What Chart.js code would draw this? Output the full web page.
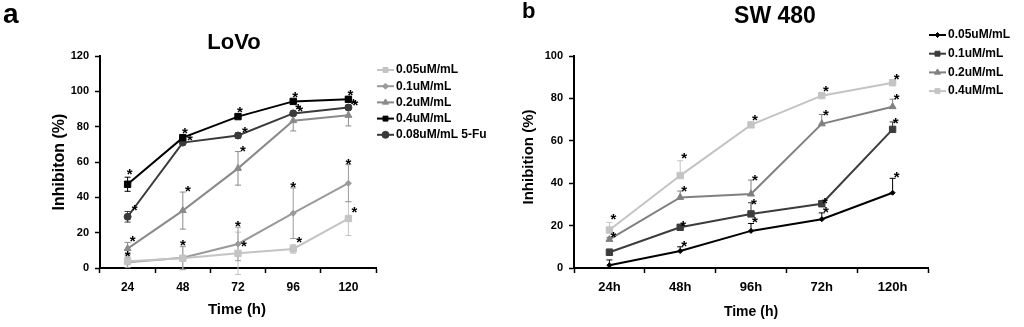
<!DOCTYPE html>
<html>
<head>
<meta charset="utf-8">
<script src="https://cdn.jsdelivr.net/npm/chart.js@4/dist/chart.umd.min.js"></script>
<style>
  body { margin: 0; background: #fff; width: 1024px; height: 327px; overflow: hidden; position: relative; }
  canvas { position: absolute; top: 0; }
  #lovo { left: 0; }
  #sw { left: 512px; }
</style>
</head>
<body>
<canvas id="lovo" width="512" height="327"></canvas>
<canvas id="sw" width="512" height="327"></canvas>
<script>
// panel a - LoVo
const lovoHours = ['24', '48', '72', '96', '120'];
const lovoTicks = [0, 20, 40, 60, 80, 100, 120];
const lovo005 = [3.8, 5.5, 8.3, 10.8, 28];
const lovo01 = [3.2, 5.8, 13.6, 31, 48];
const lovo02 = [11, 32.5, 56.4, 83.4, 86.4];
const lovo04 = [47.4, 73.8, 85.7, 94.3, 95.5];
const lovoFu = [29, 71, 75, 87.5, 90.8];
const lovo005Err = [2, 6.5, 12, 2.4, 9.6];
const lovo01Err = [3, 6.5, 9.5, 14.3, 10.5];
const lovo02Err = [3.5, 10.5, 9.5, 5.8, 6];
const lovo04Err = [4, 1, 1, 1, 1];
const lovoFuErr = [3, 1, 1.5, 1, 1];
const lovo005Sig = [0, 0, 1, 1, 1];
const lovo01Sig = [1, 1, 1, 1, 1];
const lovo02Sig = [1, 1, 1, 1, 1];
const lovo04Sig = [1, 1, 1, 1, 1];
const lovoFuSig = [1, 1, 1, 1, 1];

// panel b - SW480
const swHours = ['24h', '48h', '96h', '72h', '120h'];
const swTicks = [0, 20, 40, 60, 80, 100];
const sw005 = [1.3, 8, 17.5, 23, 35.5];
const sw01 = [7.4, 19.2, 25.5, 30.3, 65.4];
const sw02 = [13.5, 33.3, 34.9, 68, 76.1];
const sw04 = [17.9, 43.6, 67.5, 81.3, 87.4];
const sw005Err = [2.5, 2, 3.5, 3, 6.8];
const sw01Err = [1.5, 1, 5.3, 1, 3.5];
const sw02Err = [1, 3, 6.6, 4.4, 3.5];
const sw04Err = [3.6, 7, 1, 1, 0.5];
const sw005Sig = [0, 1, 1, 1, 1];
const sw01Sig = [0, 1, 1, 1, 1];
const sw02Sig = [1, 1, 1, 1, 1];
const sw04Sig = [1, 1, 1, 1, 1];

const FONT = "'Liberation Sans', Arial, sans-serif";

function series(label, data, errs, sig, color, style, radius, starDx, starDy) {
  return {
    label, data, errs, sig, starDx, starDy,
    borderColor: color, backgroundColor: color,
    pointStyle: style, pointRadius: radius, pointHoverRadius: radius,
    borderWidth: 2, pointBorderWidth: 1, tension: 0, fill: false
  };
}

const extras = {
  id: 'extras',
  beforeDatasetsDraw(chart, args, o) {
    const ctx = chart.ctx, ys = chart.scales.y;
    ctx.save();
    chart.data.datasets.forEach((ds, i) => {
      const meta = chart.getDatasetMeta(i);
      ctx.strokeStyle = ds.borderColor;
      ctx.lineWidth = 1;
      meta.data.forEach((pt, j) => {
        const v = ds.data[j], e = ds.errs[j];
        const top = ys.getPixelForValue(v + e);
        const bot = o.upperOnly ? pt.y : ys.getPixelForValue(v - e);
        ctx.beginPath();
        ctx.moveTo(pt.x, top); ctx.lineTo(pt.x, bot);
        ctx.moveTo(pt.x - 3, top); ctx.lineTo(pt.x + 3, top);
        if (!o.upperOnly) { ctx.moveTo(pt.x - 3, bot); ctx.lineTo(pt.x + 3, bot); }
        ctx.stroke();
      });
    });
    ctx.restore();
  },
  afterDatasetsDraw(chart, args, o) {
    const ctx = chart.ctx, ys = chart.scales.y;
    ctx.save();
    ctx.fillStyle = '#000';
    ctx.font = 'bold 15px ' + FONT;
    ctx.textAlign = 'center';
    ctx.textBaseline = 'alphabetic';
    chart.data.datasets.forEach((ds, i) => {
      const meta = chart.getDatasetMeta(i);
      meta.data.forEach((pt, j) => {
        if (!ds.sig[j]) return;
        const ref = o.starFromPoint && o.starFromPoint.includes(i) ? pt.y : ys.getPixelForValue(ds.data[j] + ds.errs[j]);
        ctx.fillText('*', pt.x + ds.starDx, ref + ds.starDy + 8);
      });
    });
    ctx.restore();
  },
  afterDraw(chart, args, o) {
    const ctx = chart.ctx;
    ctx.save();
    ctx.fillStyle = '#000';
    ctx.textBaseline = 'alphabetic';
    ctx.textAlign = 'left';
    ctx.font = 'bold ' + o.panelSize + 'px ' + FONT;
    ctx.fillText(o.panel, o.panelX, o.panelY);
    ctx.textAlign = 'center';
    ctx.textBaseline = 'middle';
    ctx.font = 'bold ' + o.titleSize + 'px ' + FONT;
    ctx.fillText(o.title, o.titleX, o.titleY);
    ctx.font = 'bold ' + o.axisSize[1] + 'px ' + FONT;
    ctx.fillText(o.xTitle, o.xTitleX, o.xTitleY);
    ctx.save();
    ctx.translate(o.yTitleX, o.yTitleY);
    ctx.rotate(-Math.PI / 2);
    ctx.font = 'bold ' + o.axisSize[0] + 'px ' + FONT;
    ctx.fillText(o.yTitle, 0, 0);
    ctx.restore();
    // legend: line with marker on it
    ctx.font = 'bold 12px ' + FONT;
    ctx.textAlign = 'left';
    chart.data.datasets.forEach((ds, i) => {
      const y = o.legendY + i * o.legendGap;
      ctx.strokeStyle = ds.borderColor;
      ctx.fillStyle = ds.borderColor;
      ctx.lineWidth = 2;
      ctx.beginPath();
      ctx.moveTo(o.legendX, y); ctx.lineTo(o.legendX + 17, y);
      ctx.stroke();
      ctx.lineWidth = 1;
      Chart.helpers.drawPoint(ctx, {
        pointStyle: ds.pointStyle, radius: Math.min(ds.pointRadius, 3.5), borderWidth: 1
      }, o.legendX + 8.5, y);
      ctx.fillStyle = '#000';
      ctx.fillText(ds.label, o.legendX + 19, y);
    });
    ctx.restore();
  }
};

function axes(ticks, yWidth, xFont) {
  return {
    x: {
      offset: true,
      afterFit: s => { s.height = 59; },
      grid: { offset: true, drawOnChartArea: false, tickLength: 5, color: '#000', tickWidth: 1.5 },
      border: { color: '#000', width: 2 },
      ticks: { color: '#000', padding: 7, font: { family: FONT, size: xFont, weight: 'bold' } }
    },
    y: {
      min: ticks[0], max: ticks[ticks.length - 1],
      afterFit: s => { s.width = yWidth; },
      afterBuildTicks: s => { s.ticks = ticks.map(v => ({ value: v })); },
      grid: { drawOnChartArea: false, tickLength: 5, color: '#000', tickWidth: 1.5 },
      border: { color: '#000', width: 2 },
      ticks: { color: '#000', padding: 6, font: { family: FONT, size: 11, weight: 'bold' } }
    }
  };
}

new Chart(document.getElementById('lovo'), {
  type: 'line',
  data: {
    labels: lovoHours,
    datasets: [
      series('0.05uM/mL', lovo005, lovo005Err, lovo005Sig, '#c4c4c4', 'rect', 4.5, 6, -10),
      series('0.1uM/mL', lovo01, lovo01Err, lovo01Sig, '#9a9a9a', 'rectRot', 3, 0, -4),
      series('0.2uM/mL', lovo02, lovo02Err, lovo02Sig, '#8a8a8a', 'triangle', 4, 5, -4),
      series('0.4uM/mL', lovo04, lovo04Err, lovo04Sig, '#000000', 'rect', 4.5, 2, -6),
      series('0.08uM/mL 5-Fu', lovoFu, lovoFuErr, lovoFuSig, '#3a3a3a', 'circle', 3.5, 7, -4)
    ]
  },
  options: {
    responsive: false,
    animation: false,
    layout: { padding: { top: 56, right: 136, left: 0, bottom: 0 } },
    scales: axes(lovoTicks, 100, 12),
    plugins: {
      legend: { display: false },
      tooltip: { enabled: false },
      extras: {
        panel: 'a', panelX: 3, panelY: 23, panelSize: 28,
        title: 'LoVo', titleX: 234, titleY: 43, titleSize: 22,
        xTitle: 'Time (h)', xTitleX: 237, xTitleY: 310,
        yTitle: 'Inhibiton (%)', yTitleX: 60, yTitleY: 162,
        axisSize: [16, 15],
        legendX: 377, legendY: 70, legendGap: 16.2,
        upperOnly: false, starFromPoint: [0]
      }
    }
  },
  plugins: [extras]
});

new Chart(document.getElementById('sw'), {
  type: 'line',
  data: {
    labels: swHours,
    datasets: [
      series('0.05uM/mL', sw005, sw005Err, sw005Sig, '#000000', 'rectRot', 2.5, 4, -4),
      series('0.1uM/mL', sw01, sw01Err, sw01Sig, '#3c3c3c', 'rect', 4.5, 3, -2),
      series('0.2uM/mL', sw02, sw02Err, sw02Sig, '#808080', 'triangle', 4, 4, -3),
      series('0.4uM/mL', sw04, sw04Err, sw04Sig, '#c4c4c4', 'rect', 4.5, 4, -6)
    ]
  },
  options: {
    responsive: false,
    animation: false,
    layout: { padding: { top: 56, right: 96, left: 0, bottom: 0 } },
    scales: axes(swTicks, 62, 13),
    plugins: {
      legend: { display: false },
      tooltip: { enabled: false },
      extras: {
        panel: 'b', panelX: 10, panelY: 18, panelSize: 22,
        title: 'SW 480', titleX: 263, titleY: 17, titleSize: 23,
        xTitle: 'Time (h)', xTitleX: 239, xTitleY: 312,
        yTitle: 'Inhibition (%)', yTitleX: 17, yTitleY: 157,
        axisSize: [15, 14],
        legendX: 417, legendY: 35, legendGap: 18.7,
        upperOnly: true
      }
    }
  },
  plugins: [extras]
});
</script>
</body>
</html>
